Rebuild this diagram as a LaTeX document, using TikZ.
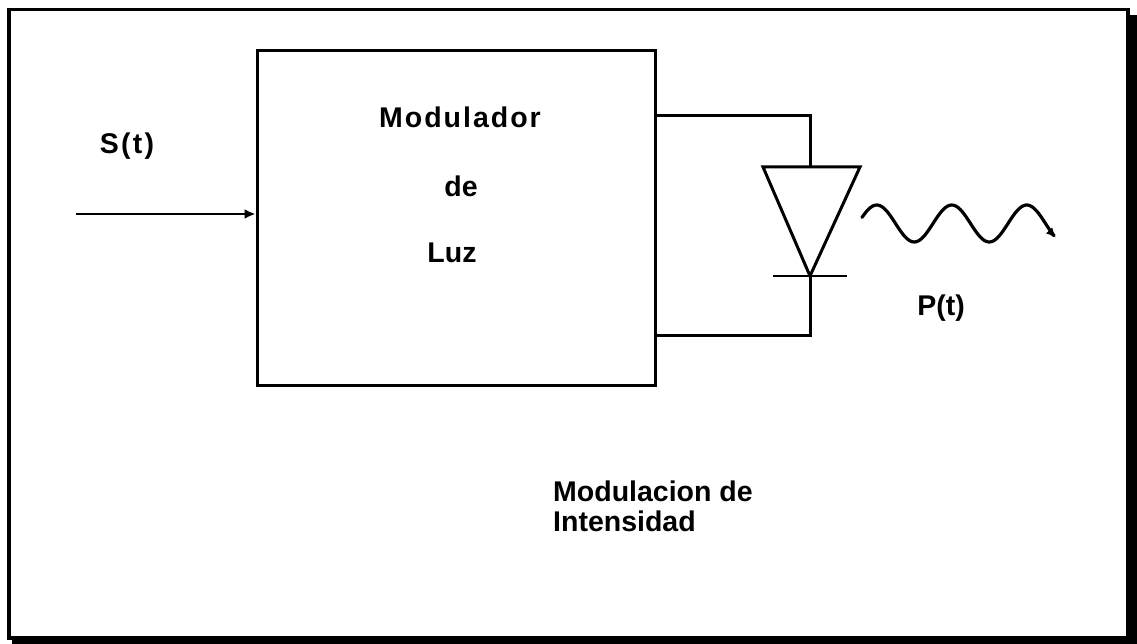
\documentclass[tikz,border=0pt]{standalone}
\usepackage{fontspec}
\setmainfont{Liberation Sans}
\usetikzlibrary{arrows.meta}
\begin{document}
\begin{tikzpicture}[x=1pt,y=-1pt,
  lbl/.style={inner sep=0pt, font=\fontsize{28.5}{30}\selectfont\bfseries},
  wire/.style={line width=3pt, line join=miter},
  arr/.style={line width=2.6pt, -{Latex[length=11pt,width=10pt]}}]
\useasboundingbox (0,0) rectangle (1137,644);
% frame with shadow
\fill[black] (1127,15) rectangle (1137,644);
\fill[black] (12,637) rectangle (1137,644);
\draw[line width=3.5pt] (9,9.5) rectangle (1128,638);
% modulator box
\node[draw, line width=3pt, minimum width=398pt, minimum height=334pt, inner sep=0pt] (mod) at (456,218) {};
\node[lbl] (t1) at (460,117) {\addfontfeature{LetterSpace=7}Modulador};
\node[lbl] (t2) at (461,186) {de};
\node[lbl] (t3) at (452,253) {Luz};
% input
\node[lbl] (s) at (127,146) {\addfontfeature{LetterSpace=8}S(t)};
\coordinate (in) at (76,214);
\draw[arr] (in) -- (in -| mod.west);
% diode
\coordinate (dl) at (763,167);
\coordinate (dr) at (860,167);
\coordinate (dtop) at (810,167);
\coordinate (dapex) at (810,276);
\coordinate (bl) at (773,276);
\coordinate (br) at (847,276);
\coordinate (wtop) at (655,116);
\coordinate (wbot) at (655,335);
\draw[wire] (dl) -- (dr) -- (dapex) -- cycle;
\draw[line width=2.2pt] (bl) -- (br);
\draw[wire] (wtop) -| (dtop);
\draw[wire] (dapex) |- (wbot);
% light wave
\draw[line width=3.2pt, line cap=round, -{Latex[length=10pt,width=9pt]}]
  plot[domain=862:1056, samples=90, smooth] (\x, {223.5 - 18.5*sin((\x-858)*4.8)});
\node[lbl] (p) at (941,308) {P(t)};
% caption
\node[lbl, anchor=west] (c1) at (553,491) {Modulacion de};
\node[lbl, anchor=west] (c2) at (553,521) {Intensidad};
\end{tikzpicture}
\end{document}
